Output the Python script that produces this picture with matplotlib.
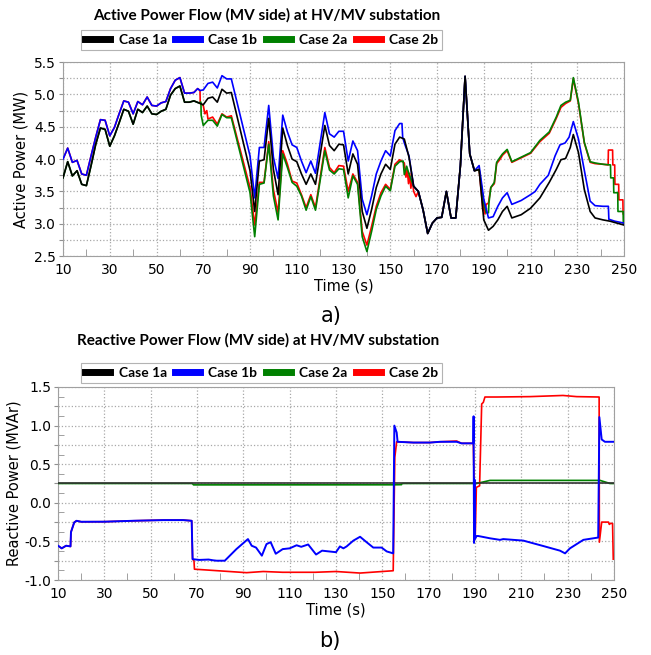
import numpy as np
import matplotlib
matplotlib.use('Agg')
import matplotlib.pyplot as plt
from matplotlib.ticker import MultipleLocator, FuncFormatter

# ---- active power (top) ----
t_1a = [10, 12, 14, 16, 18, 20, 22, 24, 26, 28, 30, 32, 34, 36, 38, 40, 42, 44, 46, 48, 50, 52, 54, 56, 58, 60,
        62, 64, 66, 68, 70, 72, 74, 76, 78, 80, 82, 90, 92, 94, 96, 98, 100, 102, 104, 106, 108, 110, 112, 114,
        116, 118, 122, 124, 126, 128, 130, 132, 134, 136, 138, 140, 142, 144, 146, 148, 150, 152, 154, 156, 158,
        160, 162, 164, 166, 168, 170, 172, 174, 176, 178, 180, 182, 184, 186, 188, 190, 192, 194, 196, 198, 200,
        202, 206, 210, 214, 218, 221, 223, 225, 227, 228.3, 230.5, 233, 235.5, 237.6, 241, 244, 247, 250]
p_1a = [3.71, 3.96, 3.74, 3.82, 3.61, 3.59, 3.9, 4.23, 4.48, 4.46, 4.2, 4.36, 4.56, 4.77, 4.74, 4.54, 4.77, 4.72,
        4.82, 4.70, 4.69, 4.74, 4.77, 4.99, 5.09, 5.13, 4.88, 4.88, 4.9, 4.87, 4.84, 4.94, 4.96, 4.88, 5.08, 5.02,
        5.03, 3.82, 3.19, 3.97, 3.99, 4.63, 3.84, 3.45, 4.48, 4.21, 4.0, 3.96, 3.77, 3.61, 3.77, 3.61, 4.52, 4.21,
        4.13, 4.23, 4.22, 3.77, 4.08, 3.92, 3.19, 2.93, 3.22, 3.56, 3.77, 3.92, 3.84, 4.23, 4.34, 4.31, 4.03, 3.58,
        3.5, 3.22, 2.85, 3.01, 3.09, 3.1, 3.5, 3.09, 3.09, 3.9, 5.28, 4.08, 3.82, 3.84, 3.06, 2.9, 2.96, 3.06, 3.19,
        3.27, 3.09, 3.14, 3.24, 3.4, 3.64, 3.84, 3.99, 4.01, 4.18, 4.38, 4.1, 3.53, 3.19, 3.09, 3.06, 3.04, 3.01,
        2.98]

t_1b = [10, 12, 14, 16, 18, 20, 22, 24, 26, 28, 30, 32, 34, 36, 38, 40, 42, 44, 46, 48, 50, 52, 54, 56, 58, 60,
        62, 64, 66, 67.6, 68.6, 70, 72, 74, 76, 78, 80, 82, 90, 92, 94, 96, 98, 100, 102, 104, 106, 108, 110, 112,
        114, 116, 118, 122, 124, 126, 128, 130, 132, 134, 136, 138, 140, 142, 144, 146, 148, 150, 152, 154, 155,
        155.3, 156, 158, 160, 162, 164, 166, 168, 170, 172, 174, 176, 178, 180, 182, 184, 186, 188, 190, 192, 194,
        196, 198, 200, 202, 206, 210, 212, 214, 217.6, 220.5, 222.6, 224.8, 226.5, 228.3, 230.5, 233.3, 235.5,
        237.6, 241, 243.3, 243.5, 246, 250]
p_1b = [4.0, 4.17, 3.95, 3.98, 3.77, 3.75, 4.05, 4.34, 4.61, 4.6, 4.36, 4.49, 4.7, 4.9, 4.88, 4.70, 4.89, 4.84,
        4.96, 4.83, 4.82, 4.87, 4.89, 5.09, 5.22, 5.26, 5.02, 5.02, 5.03, 5.09, 5.06, 5.07, 5.17, 5.19, 5.1, 5.29,
        5.24, 5.24, 4.05, 3.40, 4.18, 4.18, 4.83, 4.03, 3.70, 4.68, 4.42, 4.22, 4.18, 3.97, 3.79, 3.97, 3.78, 4.72,
        4.39, 4.34, 4.43, 4.43, 3.97, 4.28, 4.13, 3.38, 3.14, 3.43, 3.77, 3.97, 4.13, 4.05, 4.44, 4.55, 4.55, 4.34,
        4.25, 4.05, 3.58, 3.5, 3.22, 2.85, 3.01, 3.09, 3.1, 3.5, 3.09, 3.09, 3.9, 5.28, 4.08, 3.82, 3.9, 3.38, 3.09,
        3.11, 3.27, 3.4, 3.48, 3.3, 3.36, 3.45, 3.5, 3.61, 3.75, 4.05, 4.22, 4.25, 4.34, 4.58, 4.31, 3.77, 3.35,
        3.28, 3.27, 3.27, 3.07, 3.04, 3.01]

t_2a = [10, 12, 14, 16, 18, 20, 22, 24, 26, 28, 30, 32, 34, 36, 38, 40, 42, 44, 46, 48, 50, 52, 54, 56, 58, 60,
        62, 64, 66, 68, 69, 69.1, 70, 72, 74, 76, 78, 80, 82, 90, 92, 94, 96, 98, 100, 102, 104, 106, 108, 110, 112,
        114, 116, 118, 122, 124, 126, 128, 130, 132, 134, 136, 138, 140, 142, 144, 146, 148, 150, 152, 154, 155.5,
        156, 157, 158, 160, 162, 164, 166, 168, 170, 172, 174, 176, 178, 180, 182, 184, 186, 188, 190, 191, 192,
        192.2, 193, 194.5, 195.5, 197, 198, 200, 202, 206, 210, 214, 218, 221, 223, 225, 227, 228.3, 230.5, 233,
        235.5, 237.6, 241, 244.2, 244.3, 245.5, 245.6, 247.3, 247.4, 249.6, 249.7, 250]
p_2a = [3.71, 3.96, 3.74, 3.82, 3.61, 3.59, 3.9, 4.23, 4.48, 4.46, 4.2, 4.36, 4.56, 4.77, 4.74, 4.54, 4.77, 4.72,
        4.82, 4.70, 4.69, 4.74, 4.77, 4.99, 5.09, 5.13, 4.88, 4.88, 4.9, 4.87, 4.88, 4.68, 4.52, 4.6, 4.6, 4.51,
        4.69, 4.64, 4.64, 3.48, 2.8, 3.61, 3.63, 4.23, 3.43, 3.06, 4.08, 3.87, 3.64, 3.58, 3.43, 3.21, 3.42, 3.21,
        4.13, 3.83, 3.77, 3.85, 3.84, 3.4, 3.74, 3.61, 2.8, 2.57, 2.88, 3.22, 3.43, 3.58, 3.51, 3.89, 3.96, 3.97,
        3.76, 3.89, 3.77, 3.58, 3.5, 3.22, 2.85, 3.01, 3.09, 3.1, 3.5, 3.09, 3.09, 3.9, 5.28, 4.08, 3.82, 3.84,
        3.32, 3.17, 3.17, 3.32, 3.56, 3.64, 3.95, 4.03, 4.08, 4.15, 3.96, 4.03, 4.1, 4.29, 4.42, 4.65, 4.83, 4.88,
        4.91, 5.26, 4.88, 4.26, 3.96, 3.94, 3.92, 3.91, 3.71, 3.71, 3.48, 3.48, 3.19, 3.19, 3.0, 3.0]

t_2b = [10, 12, 14, 16, 18, 20, 22, 24, 26, 28, 30, 32, 34, 36, 38, 40, 42, 44, 46, 48, 50, 52, 54, 56, 58, 60,
        62, 64, 66, 67.6, 68.6, 68.7, 70, 70.7, 71.5, 72, 74, 76, 78, 80, 82, 90, 92, 94, 96, 98, 100, 102, 104,
        106, 108, 110, 112, 114, 116, 118, 122, 124, 126, 128, 130, 132, 134, 136, 138, 140, 142, 144, 146, 148,
        150, 152, 154, 156, 156.7, 157.2, 157.8, 158.3, 158.8, 159.4, 160, 161, 162, 164, 166, 168, 170, 172, 174,
        176, 178, 180, 182, 184, 186, 188, 189.3, 189.6, 190, 190.5, 191, 192, 193, 194.5, 195.5, 197, 198, 200,
        202, 206, 210, 214, 218, 221, 223, 225, 227, 228.3, 230.5, 233, 235.5, 237.6, 241, 243.2, 243.3, 245.1,
        245.2, 246, 246.1, 247.7, 247.8, 249.5, 249.6, 250]
p_2b = [4.0, 4.17, 3.95, 3.98, 3.77, 3.75, 4.05, 4.34, 4.61, 4.6, 4.36, 4.49, 4.7, 4.9, 4.88, 4.70, 4.89, 4.84,
        4.96, 4.83, 4.82, 4.87, 4.89, 5.09, 5.22, 5.26, 5.02, 5.02, 5.03, 5.09, 5.06, 4.86, 4.83, 4.70, 4.75, 4.62,
        4.65, 4.54, 4.70, 4.65, 4.67, 3.56, 2.98, 3.64, 3.64, 4.27, 3.53, 3.17, 4.13, 3.92, 3.66, 3.63, 3.45, 3.25,
        3.45, 3.25, 4.18, 3.87, 3.79, 3.9, 3.89, 3.5, 3.77, 3.64, 2.88, 2.67, 2.96, 3.27, 3.48, 3.61, 3.53, 3.92,
        3.99, 3.94, 3.72, 3.85, 3.62, 3.78, 3.55, 3.7, 3.5, 3.42, 3.5, 3.22, 2.85, 3.01, 3.09, 3.1, 3.5, 3.09, 3.09,
        3.9, 5.28, 4.08, 3.82, 3.84, 3.35, 3.2, 3.35, 3.15, 3.3, 3.32, 3.56, 3.62, 3.93, 4.0, 4.06, 4.13, 3.95,
        4.02, 4.09, 4.27, 4.4, 4.63, 4.8, 4.86, 4.9, 5.24, 4.86, 4.25, 3.95, 3.93, 3.92, 3.91, 4.14, 4.14, 3.91,
        3.91, 3.61, 3.61, 3.37, 3.37, 3.15, 3.15]

# ---- reactive power (bottom) ----
tq_1a = [10, 60, 120, 190, 250]
q_1a = [0.25, 0.25, 0.25, 0.25, 0.25]

tq_1b = [10, 11.6, 13.5, 15.4, 15.6, 17, 18, 20, 30, 42.5, 55.5, 64, 67.7, 68.1, 71, 75, 77, 78.5, 82, 87, 92,
         93.6, 95.5, 98, 100, 101.8, 104, 107, 110, 113, 115, 118, 121.4, 124, 127, 130, 131.7, 133.2, 134.6,
         137.5, 140.4, 143.2, 146.1, 149.7, 151.9, 154.7, 155.2, 156.2, 156.6, 163.4, 170.6, 174.9, 182.1, 184.2,
         189.3, 189.4, 189.6, 189.8, 190.0, 190.7, 191.4, 196.5, 200.8, 202.2, 210.9, 219.5, 226.7, 228.9, 231,
         236.8, 243.2, 243.7, 244.7, 246.1, 250]
q_1b = [-0.556, -0.59, -0.556, -0.565, -0.38, -0.254, -0.233, -0.246, -0.245, -0.233, -0.224, -0.224, -0.233,
        -0.73, -0.74, -0.735, -0.745, -0.75, -0.75, -0.6, -0.47, -0.556, -0.58, -0.685, -0.535, -0.51, -0.66,
        -0.6, -0.59, -0.55, -0.57, -0.54, -0.67, -0.62, -0.63, -0.64, -0.565, -0.59, -0.565, -0.49, -0.44, -0.51,
        -0.58, -0.58, -0.63, -0.655, 1.0, 0.91, 0.79, 0.78, 0.78, 0.79, 0.79, 0.77, 0.77, 1.12, -0.52, 0.3, -0.47,
        -0.43, -0.43, -0.46, -0.48, -0.47, -0.49, -0.56, -0.62, -0.655, -0.59, -0.48, -0.45, 1.11, 0.82, 0.79,
        0.79]

tq_2a = [10, 68, 68.5, 155, 158.3, 158.5, 190.7, 196.5, 244, 248.3, 250]
q_2a = [0.25, 0.25, 0.232, 0.233, 0.235, 0.25, 0.25, 0.29, 0.29, 0.25, 0.25]

tq_2b = [10, 11.6, 13.5, 15.4, 15.6, 17, 18, 20, 30, 42.5, 55.5, 64, 67.7, 68.1, 68.7, 68.9, 74, 91.4, 98.6, 107,
         121, 130, 140.4, 154.7, 155.4, 156.2, 163.4, 170.6, 174.9, 182.1, 184.2, 189.3, 190.1, 190.6, 192.0,
         192.9, 193.6, 194.3, 199.4, 213.7, 228, 233.9, 243.6, 243.7, 244.7, 247.6, 248.0, 248.6, 249.4, 249.7]
q_2b = [-0.556, -0.59, -0.556, -0.565, -0.38, -0.254, -0.233, -0.246, -0.245, -0.233, -0.224, -0.224, -0.233,
        -0.73, -0.75, -0.86, -0.87, -0.905, -0.89, -0.9, -0.9, -0.89, -0.91, -0.88, 0.59, 0.79, 0.78, 0.78, 0.79,
        0.80, 0.77, 0.77, -0.45, 0.2, 0.22, 1.28, 1.30, 1.37, 1.37, 1.375, 1.39, 1.375, 1.37, -0.51, -0.25, -0.25,
        -0.28, -0.265, -0.27, -0.73]

labels = ['Case 1a', 'Case 1b', 'Case 2a', 'Case 2b']
colors = ['black', '#0000ff', '#008000', '#ff0000']

xticks = list(range(10, 251, 20))

fig = plt.figure(figsize=(6.51, 6.55), dpi=100)
ax1 = fig.add_axes([0.0968, 0.609, 0.8618, 0.2962])
ax2 = fig.add_axes([0.0891, 0.1145, 0.854, 0.2947])

# draw order: 2b, 2a, 1b, 1a on top
ax1.plot(t_2b, p_2b, color=colors[3], lw=1.2, zorder=2)
ax1.plot(t_2a, p_2a, color=colors[2], lw=1.2, zorder=3)
ax1.plot(t_1b, p_1b, color=colors[1], lw=1.2, zorder=4)
ax1.plot(t_1a, p_1a, color=colors[0], lw=1.2, zorder=5)

ax2.plot(tq_2b, q_2b, color=colors[3], lw=1.2, zorder=2)
ax2.plot(tq_2a, q_2a, color=colors[2], lw=1.2, zorder=3)
ax2.plot(tq_1a, q_1a, color='#333333', lw=1.2, zorder=4)
ax2.plot(tq_1b, q_1b, color=colors[1], lw=1.4, zorder=5)


def half_fmt(v, pos):
    if abs(round(v / 0.5) * 0.5 - v) < 1e-6:
        return f'{v:.1f}'
    return ''


for ax, ylim in [(ax1, (2.5, 5.5)), (ax2, (-1.0, 1.5))]:
    ax.set_xlim(10, 250)
    ax.set_ylim(*ylim)
    ax.set_xticks(xticks)
    ax.xaxis.set_minor_locator(MultipleLocator(10))
    ax.yaxis.set_major_locator(MultipleLocator(0.25))
    ax.yaxis.set_major_formatter(FuncFormatter(half_fmt))
    ax.grid(True, which='major', color='#a8a8a8', ls=':', lw=0.9)
    ax.tick_params(axis='x', which='major', length=0, labelsize=10, pad=5)
    ax.tick_params(axis='x', which='minor', direction='in', length=5, color='#909090')
    ax.tick_params(axis='y', which='major', direction='out', length=3, color='#909090', labelsize=10, pad=2)
    for s in ax.spines.values():
        s.set_color('#a0a0a0')
        s.set_linewidth(0.8)
    ax.set_xlabel('Time (s)', fontsize=10.5, labelpad=1)

ax2.yaxis.set_minor_locator(MultipleLocator(0.125))
ax2.tick_params(axis='y', which='minor', direction='in', length=4, color='#909090')

ax1.set_ylabel('Active Power (MW)', fontsize=10.5, labelpad=4)
ax2.set_ylabel('Reactive Power (MVAr)', fontsize=10.5, labelpad=2)

tfont = dict(family='Lato', weight='bold', size=11)
fig.text(0.41, 0.977, 'Active Power Flow (MV side) at HV/MV substation', ha='center', va='center', **tfont)
fig.text(0.397, 0.481, 'Reactive Power Flow (MV side) at HV/MV substation', ha='center', va='center', **tfont)

handles = [plt.Line2D([], [], color=c, lw=5) for c in colors]
legfont = dict(family='Lato', weight='bold', size=10)
for y in [0.939, 0.4305]:
    leg = fig.legend(handles, labels, loc='center', bbox_to_anchor=(0.402, y), ncol=4, prop=legfont,
                     frameon=True, fancybox=False, edgecolor='#a0a0a0', handlelength=1.8, handletextpad=0.6,
                     columnspacing=0.6, borderpad=0.3)
    leg.get_frame().set_linewidth(0.8)

fig.text(0.508, 0.517, 'a)', ha='center', va='center', fontsize=15)
fig.text(0.507, 0.022, 'b)', ha='center', va='center', fontsize=15)

fig.savefig('out.png', dpi=100)
